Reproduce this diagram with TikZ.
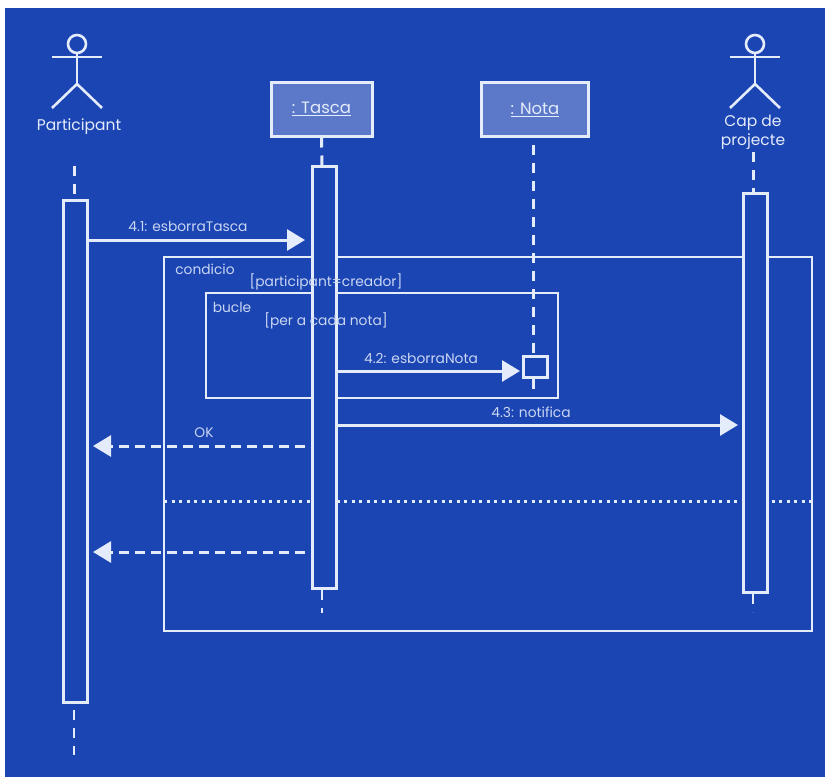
\documentclass[tikz,border=0pt]{standalone}
\usepackage{fontspec}
\usepackage{xcolor}
\setmainfont{Poppins}
\usetikzlibrary{arrows.meta}
\definecolor{bgblue}{HTML}{1C45B4}
\definecolor{boxblue}{HTML}{5B79C8}
\definecolor{inkwhite}{HTML}{E4EBFA}
\definecolor{txtwhite}{HTML}{C9D6F2}
\tikzset{
	lifeline/.style={draw=inkwhite,line width=3pt,dash pattern=on 10pt off 8pt},
	frameline/.style={draw=inkwhite,line width=2.6pt},
	objbox/.style={draw=inkwhite,line width=3pt,fill=boxblue,text=inkwhite,minimum height=54pt,inner sep=0pt,font=\fontsize{16.5}{18}\selectfont},
	actbar/.style={draw=inkwhite,line width=3pt,fill=bgblue,minimum width=24pt,inner sep=0pt},
	msg/.style={draw=inkwhite,line width=3pt,-{Triangle[length=18pt,width=21pt]}},
	reply/.style={msg,dash pattern=on 10pt off 6pt},
	lbl/.style={text=txtwhite,inner sep=0pt,font=\fontsize{13.8}{15}\selectfont},
	actorlbl/.style={text=inkwhite,inner sep=0pt,align=center,font=\fontsize{15.5}{19}\selectfont}
}
\begin{document}
\begin{tikzpicture}[x=1pt,y=-1pt]
\useasboundingbox (0,0) rectangle (825,777);
\fill [white] (0,0) rectangle (825,777);
\fill [bgblue] (5,8) rectangle (825,777);
\foreach \x/\n in {77/pa,755/cp}
	{
	\node [circle,draw=inkwhite,line width=2.6pt,minimum size=18pt,inner sep=0pt] (head\n) at (\x,44) {};
	\draw [draw=inkwhite,line width=2.6pt] (head\n.south) -- (\x,84);
	\draw [draw=inkwhite,line width=2.6pt] (\x-25,57) -- (\x+25,57);
	\draw [draw=inkwhite,line width=2.6pt] (\x-25,108) -- (\x,84) -- (\x+25,108);
	}
\node [actorlbl] (participant) at (79,127) {Participant};
\node [actorlbl] (cap) at (753,132) {Cap de\\projecte};
\node [objbox,minimum width=101pt] (tasca) at (321.5,109) {\underline{: Tasca}};
\node [objbox,minimum width=107pt] (nota) at (535,109.5) {\underline{: Nota}};
\coordinate (notaTop) at (533,145);
\coordinate (notaEnd) at (533,393);
\coordinate (paTop) at (74,166);
\coordinate (paEnd) at (74,755);
\coordinate (tascaEnd) at (322,613);
\coordinate (capTop) at (753,152);
\coordinate (capEnd) at (753,612);
\draw [lifeline] (paTop) -- (74,200);
\draw [lifeline] (tasca.south) -- (322,166);
\draw [lifeline] (notaTop) -- (notaEnd);
\draw [lifeline] (capTop) -- (753,193);
\node [actbar,minimum height=502pt] (barPa) at (75,451) {};
\draw [lifeline,line width=2.4pt] (barPa.south) ++(-1,6) -- (paEnd);
\draw [lifeline,line width=2.4pt] (322,590) -- (tascaEnd);
\draw [lifeline,line width=2.4pt] (753,594) -- (capEnd);
\draw [frameline] (164,257) rectangle (812,631);
\draw [frameline] (206,293) rectangle (558,398);
\draw [draw=inkwhite,line width=3pt,dash pattern=on 3pt off 4.5pt] (164,501) -- (812,501);
\node [actbar,minimum height=422pt] (barTasca) at (324,377) {};
\node [actbar,minimum height=399pt] (barCap) at (755,392.5) {};
\node [actbar,minimum height=21pt] (barNota) at (535,366.5) {};
\coordinate (msgA) at (305,240);
\coordinate (msgB) at (520,371);
\coordinate (msgC) at (738,425);
\coordinate (okEnd) at (93,446);
\coordinate (okStart) at (305,446);
\coordinate (backEnd) at (93,552);
\coordinate (backStart) at (305,552);
\draw [msg] (barPa.east |- msgA) -- (msgA);
\draw [msg] (barTasca.east |- msgB) -- (msgB);
\draw [msg] (barTasca.east |- msgC) -- (msgC);
\draw [reply] (okStart) -- (okEnd);
\draw [reply] (backStart) -- (backEnd);
\node [lbl] (lblA) at (188,226) {4.1: esborraTasca};
\node [lbl] (lblCond) at (205,269) {condicio};
\node [lbl] (lblGuard) at (326,282) {[participant=creador]};
\node [lbl] (lblLoop) at (232,307) {bucle};
\node [lbl] (lblEach) at (326,321) {[per a cada nota]};
\node [lbl] (lblB) at (421,358) {4.2: esborraNota};
\node [lbl] (lblC) at (531,412) {4.3: notifica};
\node [lbl] (lblOk) at (204,433) {OK};
\end{tikzpicture}
\end{document}
